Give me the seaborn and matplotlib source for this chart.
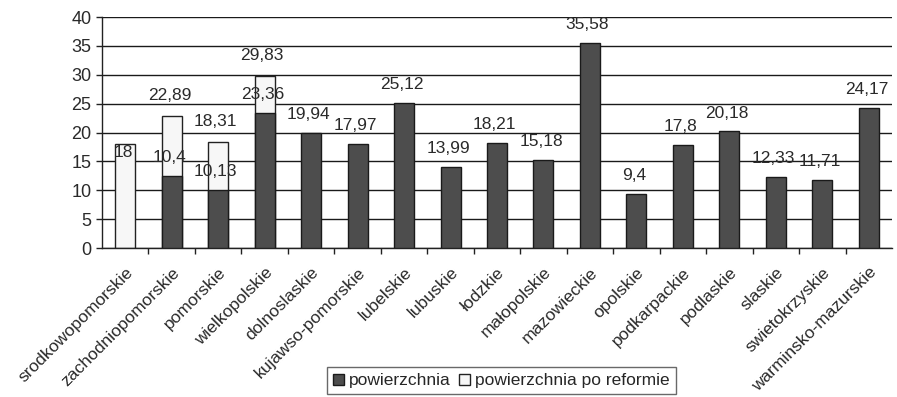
import numpy as np
import pandas as pd
import seaborn as sns
from matplotlib import pyplot as plt
from matplotlib.patches import Patch

# data
regions = ['srodkowopomorskie', 'zachodniopomorskie', 'pomorskie', 'wielkopolskie',
           'dolnoslaskie', 'kujawso-pomorskie', 'lubelskie', 'lubuskie', 'łodzkie',
           'małopolskie', 'mazowieckie', 'opolskie', 'podkarpackie', 'podlaskie',
           'slaskie', 'swietokrzyskie', 'warminsko-mazurskie']
powierzchnia = [0, 12.49, 10.13, 23.36, 19.94, 17.97, 25.12, 13.99, 18.21,
                15.18, 35.58, 9.4, 17.8, 20.18, 12.33, 11.71, 24.17]
po_reformie = [18, 22.89, 18.31, 29.83, 0, 0, 0, 0, 0,
               0, 0, 0, 0, 0, 0, 0, 0]
dark_labels = ['', '10,4', '10,13', '23,36', '19,94', '17,97', '25,12', '13,99', '18,21',
               '15,18', '35,58', '9,4', '17,8', '20,18', '12,33', '11,71', '24,17']
top_labels = ['18', '22,89', '18,31', '29,83'] + [''] * 13

df = pd.DataFrame({'region': regions, 'powierzchnia': powierzchnia,
                   'po_reformie': po_reformie})

sns.set_style('white')
plt.rcParams['font.family'] = ['Liberation Sans', 'DejaVu Sans']

fig = plt.figure(figsize=(8.97, 3.97), dpi=100)
ax = fig.add_axes([0.1137, 0.3753, 0.8807, 0.5817])

sns.barplot(data=df, x='region', y='po_reformie', color='#f7f7f7', edgecolor='#222222',
            linewidth=1, width=0.43, saturation=1, ax=ax, zorder=3)
sns.barplot(data=df, x='region', y='powierzchnia', color='#4d4d4d', edgecolor='#1a1a1a',
            linewidth=1, width=0.43, saturation=1, ax=ax, zorder=4)

for i in range(len(regions)):
    if dark_labels[i]:
        ax.text(i - 0.05, powierzchnia[i] + 3.2, dark_labels[i], ha='center', va='center',
                fontsize=12.5, color='#2a2a2a', zorder=5)
    if top_labels[i]:
        if powierzchnia[i] == 0:
            y = po_reformie[i] - 1.5
        else:
            y = po_reformie[i] + 3.6
        ax.text(i - 0.05, y, top_labels[i], ha='center', va='center',
                fontsize=12.5, color='#2a2a2a', zorder=5)

ax.set_xlim(-0.5, len(regions) - 0.5)
ax.set_ylim(0, 40)
ax.set_yticks(np.arange(0, 41, 5))
ax.yaxis.grid(True, color='#1a1a1a', linewidth=1)
ax.set_axisbelow(True)
ax.set_xlabel('')
ax.set_ylabel('')

ax.set_xticks(np.arange(len(regions)))
ax.set_xticklabels(regions, rotation=45, ha='right', rotation_mode='anchor',
                   fontsize=12.5, color='#2a2a2a')
ax.set_xticks(np.arange(0.5, len(regions) - 0.5, 1), minor=True)
ax.tick_params(axis='x', which='major', length=0, pad=12)
ax.tick_params(axis='x', which='minor', length=4, width=1, color='#222222', bottom=True)
ax.tick_params(axis='y', length=4, width=1, color='#222222', left=True,
               labelsize=13, labelcolor='#2a2a2a')

for s in ['top', 'right']:
    ax.spines[s].set_visible(False)
for s in ['left', 'bottom']:
    ax.spines[s].set_color('#222222')
    ax.spines[s].set_linewidth(1)

handles = [Patch(facecolor='#4d4d4d', edgecolor='#1a1a1a', label='powierzchnia'),
           Patch(facecolor='#f7f7f7', edgecolor='#222222', label='powierzchnia po reformie')]
fig.legend(handles=handles, loc='upper center', bbox_to_anchor=(0.559, 0.075), ncol=2,
           frameon=True, fancybox=False, edgecolor='#444444', fontsize=12.5,
           handlelength=0.6, handleheight=0.6, handletextpad=0.3, columnspacing=0.5,
           borderpad=0.35, borderaxespad=0)

fig.savefig('out.png', dpi=100)
